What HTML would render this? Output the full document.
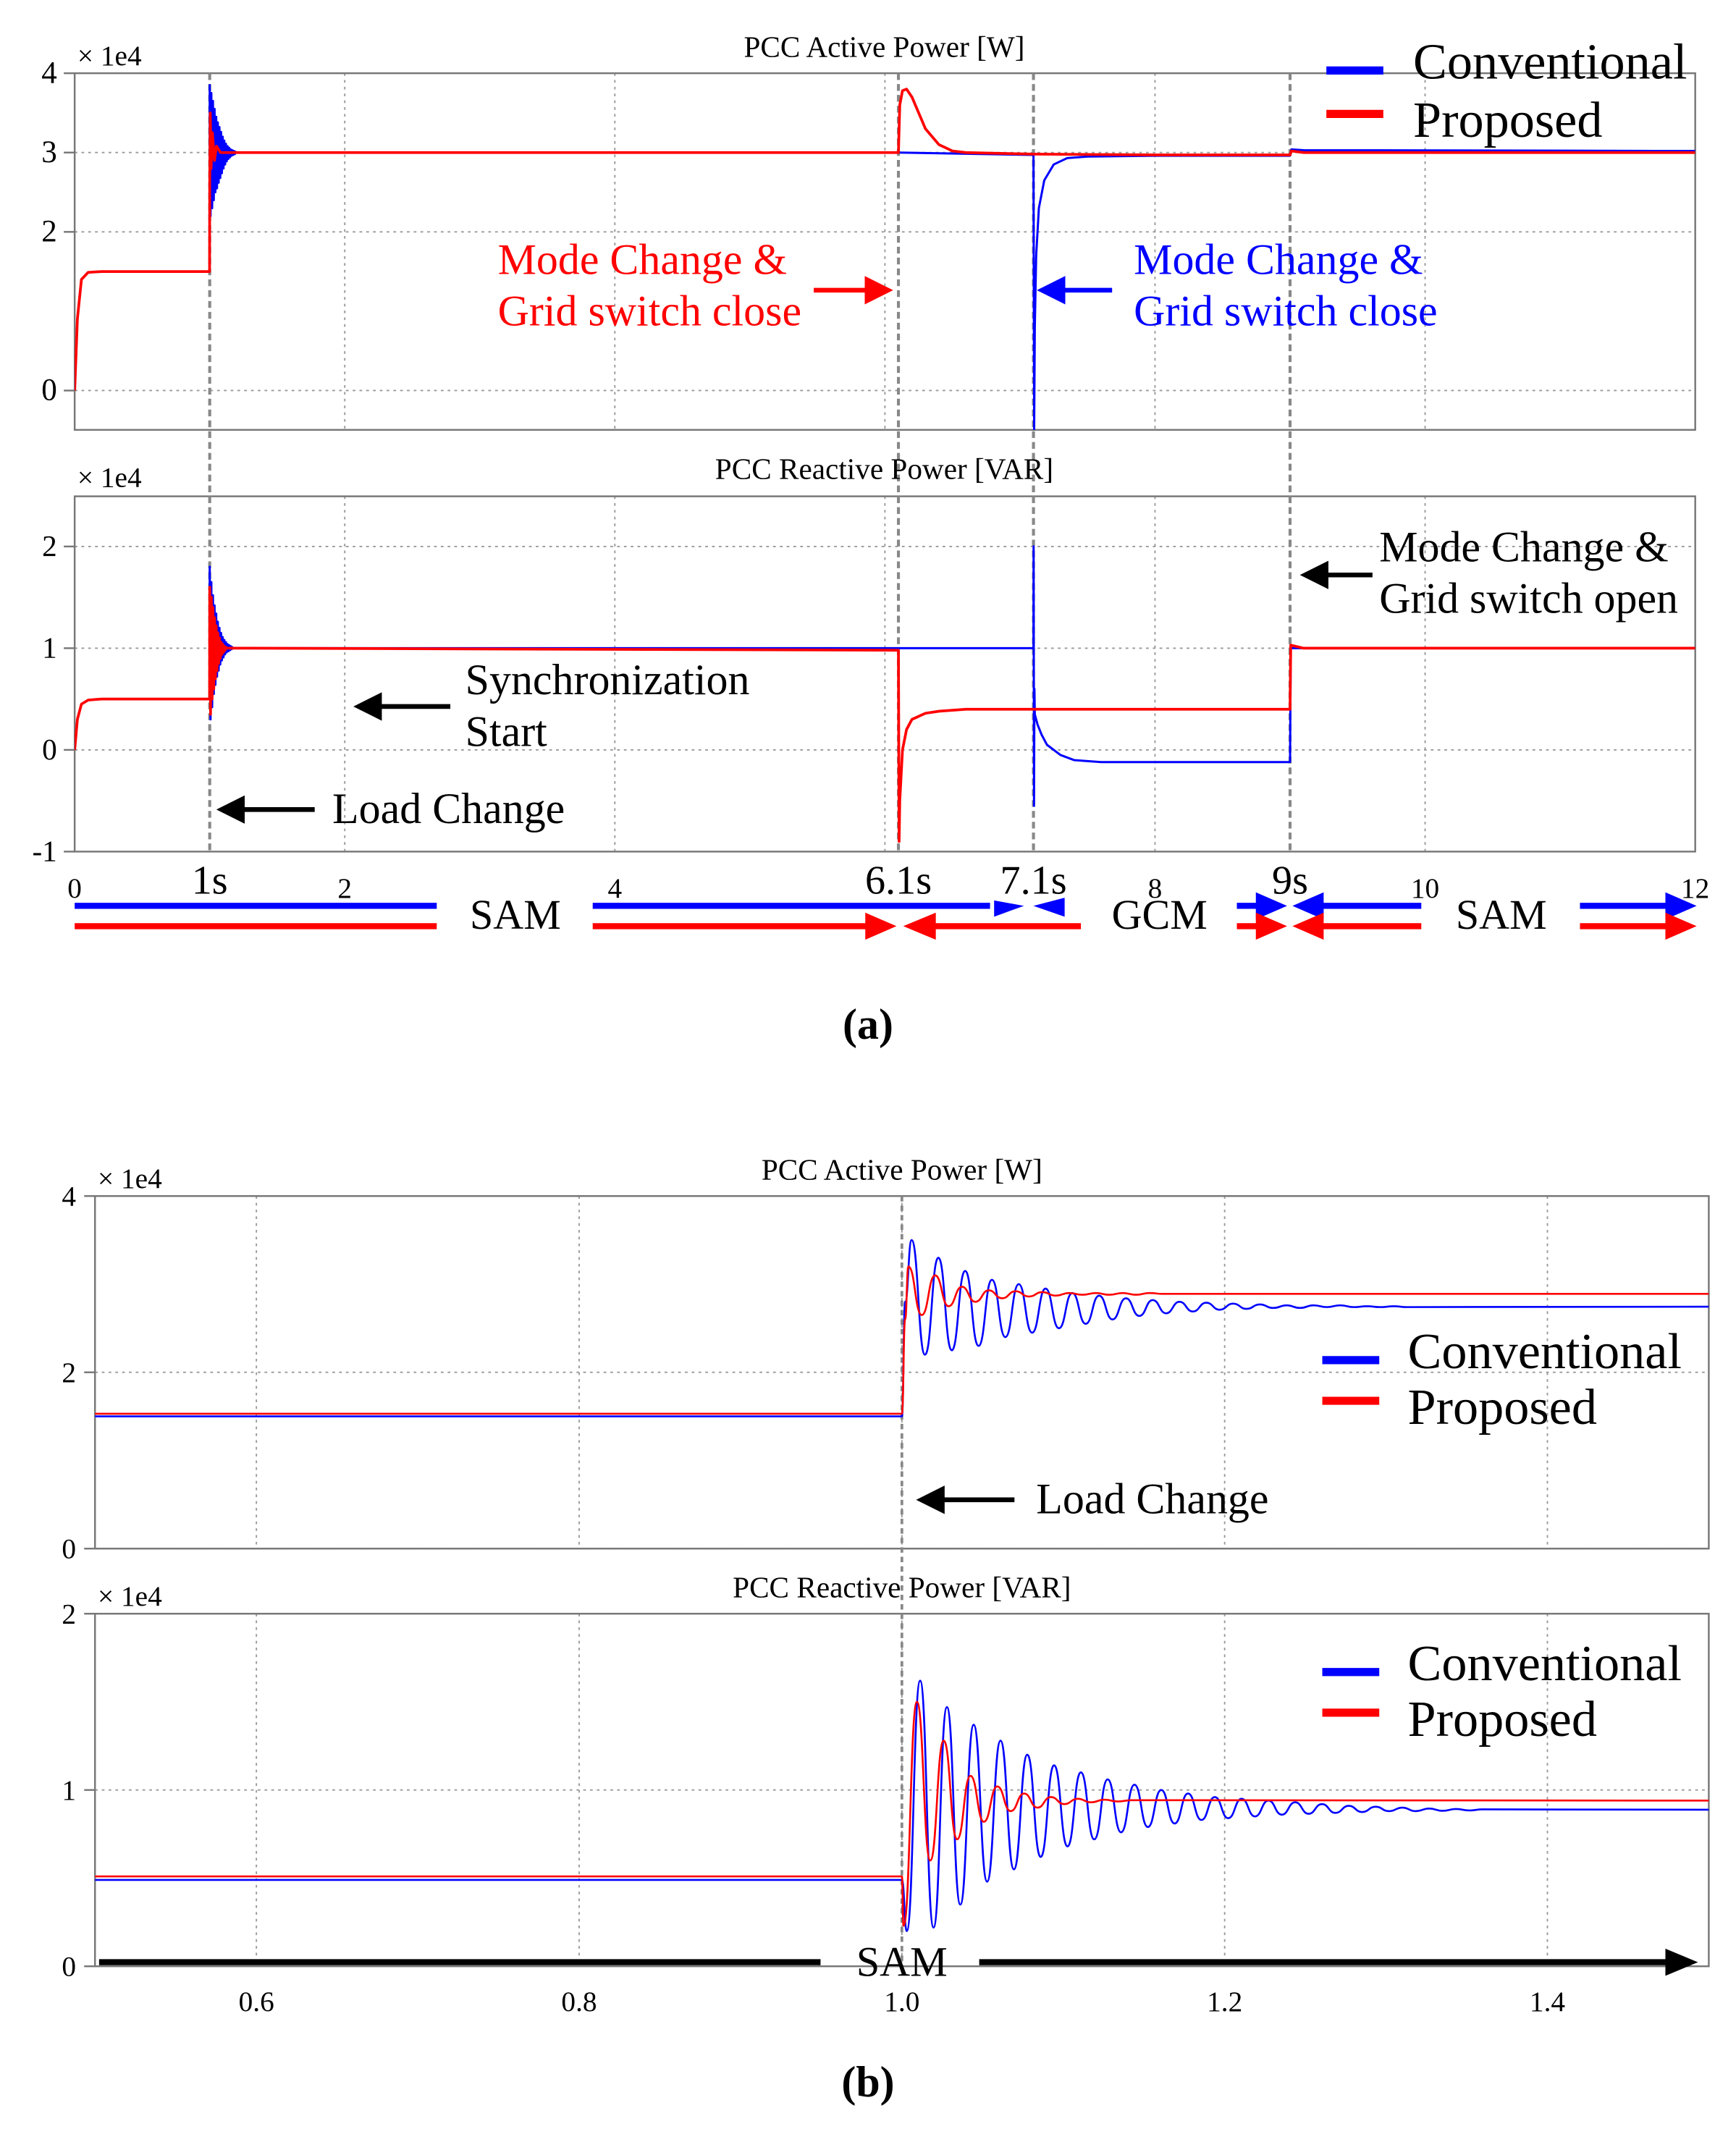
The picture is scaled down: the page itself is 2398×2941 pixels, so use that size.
<!DOCTYPE html>
<html><head><meta charset="utf-8"><style>
html,body{margin:0;padding:0;background:#fff}
svg{display:block}
text{font-family:"Liberation Serif",serif;fill:#000}
</style></head><body>
<svg id="chart" xmlns="http://www.w3.org/2000/svg" width="2398" height="2941" viewBox="0 0 1280 1570">
<defs>
<clipPath id="cA1"><rect x="55" y="54" width="1195" height="263"/></clipPath>
<clipPath id="cA2"><rect x="55" y="366" width="1195" height="262"/></clipPath>
<clipPath id="cB1"><rect x="70" y="882" width="1190" height="260"/></clipPath>
<clipPath id="cB2"><rect x="70" y="1190" width="1190" height="260"/></clipPath>
<marker id="ab" markerWidth="6" markerHeight="6" refX="5" refY="3" orient="auto" markerUnits="strokeWidth"><path d="M0,0 L6,3 L0,6 z" fill="#000"/></marker>
<marker id="ar" markerWidth="6" markerHeight="6" refX="5" refY="3" orient="auto" markerUnits="strokeWidth"><path d="M0,0 L6,3 L0,6 z" fill="#f00"/></marker>
<marker id="au" markerWidth="6" markerHeight="6" refX="5" refY="3" orient="auto" markerUnits="strokeWidth"><path d="M0,0 L6,3 L0,6 z" fill="#00f"/></marker>
</defs>
<g id="layer"></g>
</svg>
<script>
// ---------- Panel (a) active power data (units 1e4 W), time in s ----------
const aPT_red = [0,0.02,0.05,0.1,0.2,0.999,1.0,1.004,1.01,1.02,1.035,1.05,1.08,1.2,6.1,6.11,6.13,6.16,6.2,6.25,6.3,6.4,6.5,6.6,7.1,8.0,9.0,9.01,9.1,12];
const aPV_red = [0,0.9,1.4,1.49,1.5,1.5,2.6,3.5,2.8,3.25,2.9,3.08,3.0,3.0,3.0,3.6,3.78,3.8,3.7,3.5,3.3,3.1,3.02,3.0,2.98,2.97,2.97,3.02,3.0,3.0];
const aPT_blue = [0,0.02,0.05,0.1,0.2,0.999,1.0,6.1,7.1,7.105,7.11,7.12,7.14,7.18,7.25,7.35,7.5,8.0,9.0,9.01,9.1,12];
const aPV_blue = [0,0.9,1.4,1.49,1.5,1.5,3.0,3.0,2.97,-0.5,0.8,1.7,2.3,2.65,2.85,2.93,2.95,2.96,2.96,3.04,3.03,3.02];
const aPBurstStart = 1.0, aPBurstStep = 0.006;
const aPBurst_blue = [3.85,2.2,3.75,2.3,3.65,2.4,3.55,2.5,3.45,2.55,3.38,2.62,3.32,2.68,3.26,2.74,3.2,2.8,3.15,2.85,3.11,2.89,3.08,2.92,3.06,2.94,3.04,2.96,3.03,2.97,3.02,2.98,3.01,3.0];
// ---------- Panel (a) reactive power data ----------
const aQT_red = [0,0.02,0.05,0.1,0.2,0.999,1.3,6.1,6.105,6.11,6.13,6.16,6.2,6.3,6.4,6.6,7.1,8.0,9.0,9.005,9.1,12];
const aQV_red = [0,0.3,0.45,0.49,0.5,0.5,1.0,0.98,-0.9,-0.5,0.0,0.2,0.3,0.36,0.38,0.4,0.4,0.4,0.4,1.03,1.0,1.0];
const aQT_blue = [0,0.02,0.05,0.1,0.2,0.999,1.3,6.1,7.1,7.101,7.104,7.107,7.11,7.13,7.16,7.2,7.3,7.4,7.6,8.0,9.0,9.005,9.1,12];
const aQV_blue = [0,0.3,0.45,0.49,0.5,0.5,1.0,1.0,1.0,2.0,-0.55,0.6,0.35,0.25,0.15,0.05,-0.05,-0.1,-0.12,-0.12,-0.12,1.0,1.0,1.0];
const aQBurstStart = 1.0, aQBurstStep = 0.006;
const aQBurst_blue = [1.8,0.3,1.65,0.42,1.52,0.55,1.42,0.64,1.34,0.72,1.26,0.78,1.2,0.84,1.15,0.88,1.11,0.91,1.08,0.94,1.06,0.96,1.04,0.97,1.03,0.98,1.02,0.99,1.01,1.0];
const aQBurst_red = [1.6,0.35,1.5,0.5,1.4,0.6,1.3,0.7,1.22,0.78,1.15,0.85,1.1,0.9,1.06,0.94,1.04,0.96,1.02,0.98,1.01,1.0];
// ---------- Panel (b) active power ----------
const bPT_blue = [0.5,1.0,1.002];
const bPV_blue = [1.5,1.5,2.8];
const bPExtStart_blue = 1.006, bPExtStep = 0.0083;
const bPExt_blue = [3.5,2.2,3.3,2.25,3.15,2.3,3.05,2.4,3.0,2.45,2.95,2.5,2.9,2.55,2.87,2.6,2.84,2.64,2.82,2.67,2.8,2.69,2.79,2.71,2.78,2.72,2.77,2.73,2.76,2.73,2.76,2.74,2.76,2.74,2.75,2.74,2.75,2.74];
const bPTail_blue = [1.5, 2.745];
const bPT_red = [0.5,1.0,1.002];
const bPV_red = [1.53,1.53,2.6];
const bPExtStart_red = 1.004;
const bPExt_red = [3.2,2.65,3.1,2.75,2.97,2.8,2.93,2.84,2.92,2.86,2.91,2.87,2.9,2.88,2.9,2.88,2.9,2.88,2.9,2.89];
const bPTail_red = [1.5, 2.89];
// ---------- Panel (b) reactive power ----------
const bQT_blue = [0.5,1.0];
const bQV_blue = [0.49,0.49];
const bQExtStart_blue = 1.003, bQExtStep = 0.0083;
const bQExt_blue = [0.2,1.62,0.22,1.47,0.35,1.37,0.48,1.28,0.55,1.2,0.62,1.14,0.68,1.1,0.72,1.06,0.76,1.03,0.79,1.0,0.81,0.98,0.83,0.96,0.84,0.95,0.85,0.94,0.86,0.93,0.865,0.92,0.87,0.91,0.875,0.905,0.88,0.9,0.88,0.895,0.882,0.892,0.884,0.89];
const bQTail_blue = [1.5, 0.888];
const bQT_red = [0.5,1.0];
const bQV_red = [0.51,0.51];
const bQExtStart_red = 1.001;
const bQExt_red = [0.23,1.5,0.6,1.28,0.72,1.08,0.82,1.02,0.88,0.98,0.9,0.96,0.92,0.95,0.93,0.945,0.935,0.942];
const bQTail_red = [1.5, 0.94];

const aXTicks = [0,2,4,8,10,12];
const aXTickLabels = ["0","2","4","8","10","12"];
const aXMarks = [1,6.1,7.1,9];
const aXMarkLabels = ["1s","6.1s","7.1s","9s"];
const aPYTicks = [0,2,3,4];
const aQYTicks = [-1,0,1,2];
const bXTicks = [0.6,0.8,1.0,1.2,1.4];
const bXTickLabels = ["0.6","0.8","1.0","1.2","1.4"];
const bPYTicks = [0,2,4];
const bQYTicks = [0,1,2];

const NS = "http://www.w3.org/2000/svg";
const L = document.getElementById('layer');
function el(tag, attrs, parent){const e=document.createElementNS(NS,tag);for(const k in attrs)e.setAttribute(k,attrs[k]);(parent||L).appendChild(e);return e;}
function txt(x,y,s,size,anchor,fill,parent){const e=el('text',{x:x,y:y,'font-size':size,'text-anchor':anchor||'start',fill:fill||'#000'},parent);e.style.fill=fill||'#000';e.textContent=s;return e;}

const A1={x:t=>55+t*99.58, y:v=>288-58.5*v, l:55,r:1250,t:54,b:317};
const A2={x:A1.x, y:v=>553-75*v, l:55,r:1250,t:366,b:628};
const B1={x:t=>70+(t-0.5)*1190, y:v=>1142-65*v, l:70,r:1260,t:882,b:1142};
const B2={x:B1.x, y:v=>1450-130*v, l:70,r:1260,t:1190,b:1450};

function pointsOf(P, ts, vs, extStart, extStep, ext, tail){
  const pts=[];
  for(let i=0;i<ts.length;i++)pts.push([ts[i],vs[i]]);
  if(ext)for(let i=0;i<ext.length;i++)pts.push([extStart+i*extStep, ext[i]]);
  if(tail)pts.push([tail[0],tail[1]]);
  pts.sort((a,b)=>a[0]-b[0]);
  return pts.map(p=>[P.x(p[0]),P.y(p[1])]);
}
function series(P, ts, vs, extStart, extStep, ext, tail){
  return pointsOf(P,ts,vs,extStart,extStep,ext,tail).map(p=>p[0].toFixed(2)+','+p[1].toFixed(2)).join(' ');
}
function smoothPath(P, ts, vs, extStart, extStep, ext, tail){
  const p=pointsOf(P,ts,vs,extStart,extStep,ext,tail);
  let d='M'+p[0][0].toFixed(2)+','+p[0][1].toFixed(2);
  for(let i=1;i<p.length;i++){
    const dx=(p[i][0]-p[i-1][0])/2;
    if(dx>40){d+=' L'+p[i][0].toFixed(2)+','+p[i][1].toFixed(2);continue;}
    d+=' C'+(p[i-1][0]+dx).toFixed(2)+','+p[i-1][1].toFixed(2)+' '+(p[i][0]-dx).toFixed(2)+','+p[i][1].toFixed(2)+' '+p[i][0].toFixed(2)+','+p[i][1].toFixed(2);
  }
  return d;
}
function box(P){
  const r=el('rect',{x:P.l,y:P.t,width:P.r-P.l,height:P.b-P.t,fill:'none',stroke:'#777','stroke-width':1.3});
  
  
}
function hgrid(P,vals,labels,lx,size){
  vals.forEach((v,i)=>{
    const y=P.y(v);
    const g=el('line',{x1:P.l,x2:P.r,y1:y,y2:y,stroke:'#999','stroke-width':1,'stroke-dasharray':'2,3'});
    
    
    el('line',{x1:P.l-8,x2:P.l,y1:y,y2:y,stroke:'#777','stroke-width':1.3});
    const t=txt(lx,y+7,labels[i],size,'end');
    
    
  });
}
function vgrid(P,ts){
  ts.forEach(t=>{
    const x=P.x(t);
    const g=el('line',{x1:x,x2:x,y1:P.t,y2:P.b,stroke:'#999','stroke-width':1,'stroke-dasharray':'2,3'});
    
    
  });
}
function line(P,clip,pts,color,name,w){
  const e=el('polyline',{points:pts,fill:'none',stroke:color,'stroke-width':w||1.6,'stroke-linejoin':'round','clip-path':'url(#'+clip+')'});
  
  
}
function curve(clip,d,color,name,w){
  const e=el('path',{d:d,fill:'none',stroke:color,'stroke-width':w||1.4,'clip-path':'url(#'+clip+')'});
  
  
}

vgrid(A1,[2,4,6,8,10]); vgrid(A2,[2,4,6,8,10]);
hgrid(A1,aPYTicks,aPYTicks.map(String),42,23);
hgrid(A2,aQYTicks,aQYTicks.map(String),42,22);
box(A1); box(A2);
aXMarks.forEach(t=>{
  const x=A1.x(t);
  const d=el('line',{x1:x,x2:x,y1:54,y2:628,stroke:'#888','stroke-width':2.2,'stroke-dasharray':'5,3'});
  
  
});
line(A1,'cA1',series(A1,aPT_blue,aPV_blue,aPBurstStart,aPBurstStep,aPBurst_blue),'#0000ff','active-conventional-line');
line(A1,'cA1',series(A1,aPT_red,aPV_red),'#ff0000','active-proposed-line',2);
line(A2,'cA2',series(A2,aQT_blue,aQV_blue,aQBurstStart,aQBurstStep,aQBurst_blue),'#0000ff','reactive-conventional-line');
line(A2,'cA2',series(A2,aQT_red,aQV_red,aQBurstStart,aQBurstStep,aQBurst_red),'#ff0000','reactive-proposed-line',2);
aXTicks.forEach((t,i)=>{const e=txt(A1.x(t),662,aXTickLabels[i],21,'middle');
  
  });
aXMarks.forEach((t,i)=>{const e=txt(A1.x(t),659,aXMarkLabels[i],30,'middle');
  
  });

vgrid(B1,bXTicks); vgrid(B2,bXTicks);
hgrid(B1,bPYTicks,bPYTicks.map(String),56,21);
hgrid(B2,bQYTicks,bQYTicks.map(String),56,21);
box(B1); box(B2);
{const x=B1.x(1.0);const d=el('line',{x1:x,x2:x,y1:882,y2:1450,stroke:'#888','stroke-width':2,'stroke-dasharray':'4,3'});
 
 }
curve('cB1',smoothPath(B1,bPT_blue,bPV_blue,bPExtStart_blue,bPExtStep,bPExt_blue,bPTail_blue),'#0000ff','b-active-conventional-line');
curve('cB1',smoothPath(B1,bPT_red,bPV_red,bPExtStart_red,bPExtStep,bPExt_red,bPTail_red),'#ff0000','b-active-proposed-line');
curve('cB2',smoothPath(B2,bQT_blue,bQV_blue,bQExtStart_blue,bQExtStep,bQExt_blue,bQTail_blue),'#0000ff','b-reactive-conventional-line');
curve('cB2',smoothPath(B2,bQT_red,bQV_red,bQExtStart_red,bQExtStep,bQExt_red,bQTail_red),'#ff0000','b-reactive-proposed-line');
bXTicks.forEach((t,i)=>{const e=txt(B1.x(t),1483,bXTickLabels[i],21,'middle');
  
  });
</script>
<script>
(function(){
const NS="http://www.w3.org/2000/svg";const L=document.getElementById('layer');
function el(tag,a){const e=document.createElementNS(NS,tag);for(const k in a)e.setAttribute(k,a[k]);L.appendChild(e);return e;}
function T(x,y,s,size,fill,anchor){const e=el('text',{x:x,y:y,'font-size':size,'text-anchor':anchor||'start'});e.style.fill=fill||'#000';e.textContent=s;return e;}
function A(x1,y1,x2,y2,c,m,w){return el('line',{x1:x1,y1:y1,x2:x2,y2:y2,stroke:c,'stroke-width':w||3.5,'marker-end':'url(#'+m+')'});}
let e;
e=T(652,42,'PCC Active Power [W]',22,'#000','middle');
e=T(652,353,'PCC Reactive Power [VAR]',22,'#000','middle');
e=T(665,870,'PCC Active Power [W]',22,'#000','middle');
e=T(665,1178,'PCC Reactive Power [VAR]',22,'#000','middle');
[[57,48],[57,359],[72,876],[72,1184]].forEach(p=>{e=T(p[0],p[1],'× 1e4',21);});
[[52,84,978,1042],[1003,1033,975,1038],[1233,1263,975,1038]].forEach(g=>{
 e=el('line',{x1:g[2],x2:g[2]+42,y1:g[0],y2:g[0],stroke:'#0000ff','stroke-width':6});
 e=el('line',{x1:g[2],x2:g[2]+42,y1:g[1],y2:g[1],stroke:'#ff0000','stroke-width':6});
 e=T(g[3],g[0]+6,'Conventional',37.5);
 e=T(g[3],g[1]+17,'Proposed',37.5);
});
e=T(367,202,'Mode Change &',32,'#ff0000');
T(367,240,'Grid switch close',32,'#ff0000');
A(600,214,655,214,'#ff0000','ar');
e=T(836,202,'Mode Change &',32,'#0000ff');
T(836,240,'Grid switch close',32,'#0000ff');
A(820,214,768,214,'#0000ff','au');
e=T(1017,414,'Mode Change &',32);
T(1017,452,'Grid switch open',32);
A(1012,424,962,424,'#000','ab');
e=T(343,512,'Synchronization',32);
T(343,550,'Start',32);
A(332,521,264,521,'#000','ab');
e=T(245,607,'Load Change',32);
A(232,597,163,597,'#000','ab');
e=T(764,1116,'Load Change',32);
A(748,1106,679,1106,'#000','ab');
const bl='#0000ff',rd='#ff0000';
el('line',{x1:55,x2:322,y1:668,y2:668,stroke:bl,'stroke-width':4.5});
el('line',{x1:55,x2:322,y1:683,y2:683,stroke:rd,'stroke-width':4.5});
el('line',{x1:437,x2:730,y1:668,y2:668,stroke:bl,'stroke-width':4.5});
el('path',{d:'M733,664 L755,668 L733,676 z',fill:bl});
el('path',{d:'M762,668 L785,662 L785,676 z',fill:bl});
el('line',{x1:437,x2:640,y1:683,y2:683,stroke:rd,'stroke-width':4.5});
el('path',{d:'M638,673 L661,683 L638,693 z',fill:rd});
el('path',{d:'M666,683 L690,673 L690,693 z',fill:rd});
el('line',{x1:688,x2:797,y1:683,y2:683,stroke:rd,'stroke-width':4.5});
el('line',{x1:912,x2:930,y1:668,y2:668,stroke:bl,'stroke-width':4.5});
el('path',{d:'M926,658 L949,668 L926,678 z',fill:bl});
el('line',{x1:912,x2:930,y1:683,y2:683,stroke:rd,'stroke-width':4.5});
el('path',{d:'M926,673 L949,683 L926,693 z',fill:rd});
el('path',{d:'M953,668 L976,658 L976,678 z',fill:bl});
el('line',{x1:975,x2:1048,y1:668,y2:668,stroke:bl,'stroke-width':4.5});
el('path',{d:'M953,683 L976,673 L976,693 z',fill:rd});
el('line',{x1:975,x2:1048,y1:683,y2:683,stroke:rd,'stroke-width':4.5});
el('line',{x1:1165,x2:1230,y1:668,y2:668,stroke:bl,'stroke-width':4.5});
el('path',{d:'M1228,658 L1251,668 L1228,678 z',fill:bl});
el('line',{x1:1165,x2:1230,y1:683,y2:683,stroke:rd,'stroke-width':4.5});
el('path',{d:'M1228,673 L1251,683 L1228,693 z',fill:rd});
e=T(380,685,'SAM',31,'#000','middle');
e=T(855,685,'GCM',31,'#000','middle');
e=T(1107,685,'SAM',31,'#000','middle');
el('line',{x1:73,x2:605,y1:1447,y2:1447,stroke:'#000','stroke-width':4.5});
el('line',{x1:722,x2:1232,y1:1447,y2:1447,stroke:'#000','stroke-width':4.5});
el('path',{d:'M1228,1437 L1252,1447 L1228,1457 z',fill:'#000'});
e=T(665,1457,'SAM',31,'#000','middle');
e=T(640,766,'(a)',32,'#000','middle');e.setAttribute('font-weight','bold');
e=T(640,1546,'(b)',32,'#000','middle');e.setAttribute('font-weight','bold');
})();
</script>
</body></html>
